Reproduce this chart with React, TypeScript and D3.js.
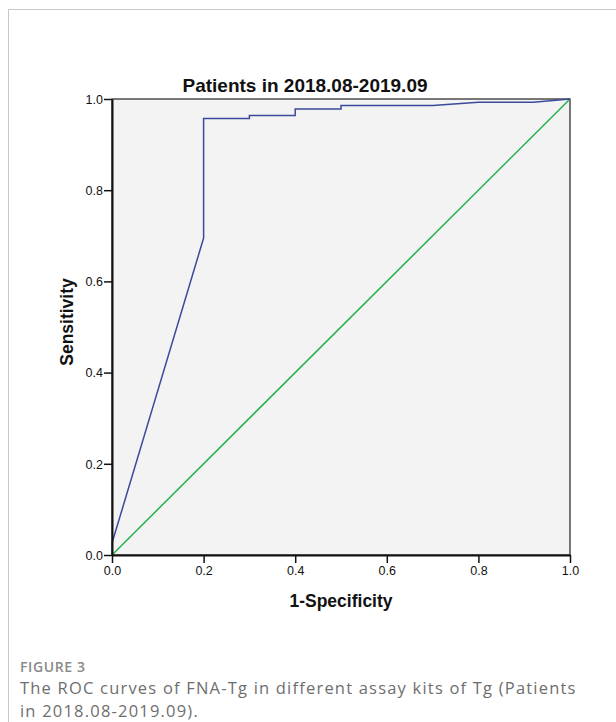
import React from 'react';
import { useEffect, useRef } from 'react';
import * as d3 from 'd3';

// ROC curve points
const fpr = [0, 0, 0.2, 0.2, 0.3, 0.3, 0.4, 0.4, 0.5, 0.5, 0.7, 0.8, 0.92, 1.0];
const tpr = [0, 0.026, 0.695, 0.957, 0.957, 0.964, 0.964, 0.978, 0.978, 0.986, 0.986, 0.993, 0.993, 1.0];
const refLine = [0, 1];
const tickValues = [0, 0.2, 0.4, 0.6, 0.8, 1.0];

const title = 'Patients in 2018.08-2019.09';
const xLabel = '1-Specificity';
const yLabel = 'Sensitivity';
const figLabel = 'FIGURE 3';
const captionLines = [
    'The ROC curves of FNA-Tg in different assay kits of Tg (Patients',
    'in 2018.08-2019.09).',
];

export default function App() {
    const svgNode = useRef<SVGSVGElement>(null);
    const width = 616;
    const height = 722;
    const plot = { left: 112, right: 570, top: 99, bottom: 555 };

    useEffect(() => {
        const svg = d3.select(svgNode.current);
        svg.selectAll('*').remove();

        // outer frame of the figure card
        svg.append('path')
            .attr('d', `M8.5,${height} V9.5 H${width}`)
            .attr('fill', 'none')
            .attr('stroke', '#c8c8c8')
            .attr('stroke-width', 1);

        const x = d3.scaleLinear().domain([0, 1]).range([plot.left, plot.right]);
        const y = d3.scaleLinear().domain([0, 1]).range([plot.bottom, plot.top]);

        // plot background
        svg.append('rect')
            .attr('x', x(0))
            .attr('y', y(1))
            .attr('width', x(1) - x(0))
            .attr('height', y(0) - y(1))
            .attr('fill', '#f3f3f3')
            .attr('stroke', '#222')
            .attr('stroke-width', 1.2);

        // reference diagonal
        svg.append('path')
            .datum(refLine)
            .attr('d', d3.line<number>().x(d => x(d)).y(d => y(d)))
            .attr('fill', 'none')
            .attr('stroke', '#22b14c')
            .attr('stroke-width', 1.5);

        // ROC curve
        svg.append('path')
            .datum(fpr.map((f, i) => [f, tpr[i]] as [number, number]))
            .attr('d', d3.line().x(d => x(d[0])).y(d => y(d[1])))
            .attr('fill', 'none')
            .attr('stroke', '#3a4a9c')
            .attr('stroke-width', 1.5);

        const tickFmt = d3.format('.1f');
        const xAxis = svg.append('g')
            .attr('transform', `translate(0,${plot.bottom})`)
            .call(d3.axisBottom(x).tickValues(tickValues).tickFormat(d => tickFmt(d as number)).tickSize(8).tickSizeOuter(0));
        const yAxis = svg.append('g')
            .attr('transform', `translate(${plot.left},0)`)
            .call(d3.axisLeft(y).tickValues(tickValues).tickFormat(d => tickFmt(d as number)).tickSize(8).tickSizeOuter(0));
        [xAxis, yAxis].forEach(g => {
            g.select('.domain').attr('stroke', '#111').attr('stroke-width', 2);
            g.selectAll('.tick line').attr('stroke', '#111').attr('stroke-width', 1.5);
            g.selectAll('.tick text')
                .attr('font-family', '"Liberation Sans", Arial, sans-serif')
                .attr('font-size', 12.5)
                .attr('fill', '#111');
        });
        xAxis.selectAll('.tick text').attr('y', 10).attr('dy', '0.8em');
        yAxis.selectAll('.tick text').attr('x', -9).attr('dy', '0.35em');

        // title and axis labels
        svg.append('text')
            .attr('x', 305)
            .attr('y', 92)
            .attr('text-anchor', 'middle')
            .attr('font-family', '"Liberation Sans", Arial, sans-serif')
            .attr('font-weight', 'bold')
            .attr('font-size', 19)
            .attr('fill', '#111')
            .text(title);
        svg.append('text')
            .attr('x', 341)
            .attr('y', 607)
            .attr('text-anchor', 'middle')
            .attr('font-family', '"Liberation Sans", Arial, sans-serif')
            .attr('font-weight', 'bold')
            .attr('font-size', 17.5)
            .attr('fill', '#111')
            .text(xLabel);
        svg.append('text')
            .attr('transform', `translate(73,322) rotate(-90)`)
            .attr('text-anchor', 'middle')
            .attr('font-family', '"Liberation Sans", Arial, sans-serif')
            .attr('font-weight', 'bold')
            .attr('font-size', 17.5)
            .attr('fill', '#111')
            .text(yLabel);

        // caption
        svg.append('text')
            .attr('x', 20)
            .attr('y', 672)
            .attr('font-family', '"Open Sans", sans-serif')
            .attr('font-size', 14)
            .attr('font-weight', 600)
            .attr('letter-spacing', 0.6)
            .attr('fill', '#8a8a8a')
            .text(figLabel);
        svg.selectAll('text.caption')
            .data(captionLines)
            .join('text')
            .attr('class', 'caption')
            .attr('x', 20)
            .attr('y', (d, i) => 694 + i * 22.5)
            .attr('font-family', '"Open Sans", sans-serif')
            .attr('font-size', 16.5)
            .attr('letter-spacing', 1.2)
            .attr('fill', '#6e6e6e')
            .text(d => d);
    }, []);

    return (
        <svg ref={svgNode} width={width} height={height}
            style={{ position: 'absolute', left: 0, top: 0, background: '#fff' }}></svg>
    );
}
